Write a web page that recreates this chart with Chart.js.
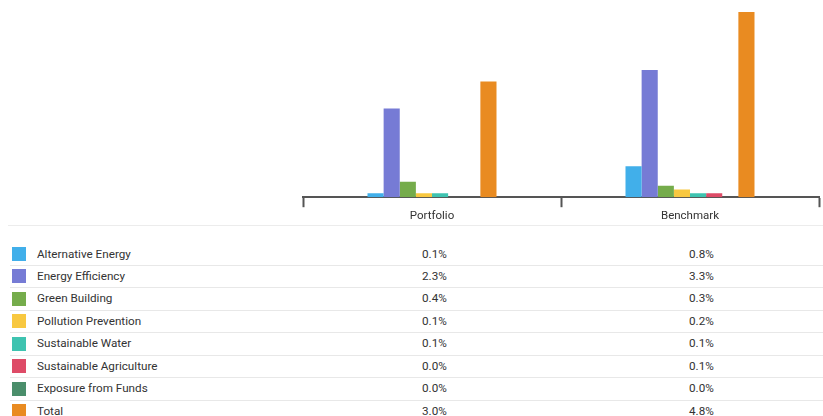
<!DOCTYPE html>
<html>
<head>
<meta charset="utf-8">
<script src="https://cdn.jsdelivr.net/npm/chart.js@4/dist/chart.umd.min.js"></script>
<style>
  body { margin: 0; background: #fff; font-family: Roboto, "Noto Sans", sans-serif; color: #333; }
  #wrap { position: relative; width: 823px; height: 416px; overflow: hidden; }
  #chartBox { position: absolute; left: 0; top: 0; width: 823px; height: 225px; }
  #divider { position: absolute; left: 8px; right: 0; top: 225px; height: 1px; background: #ececec; }
  #table { position: absolute; left: 10px; right: 0; top: 243.5px; }
  .row { position: relative; height: 21.45px; border-bottom: 1px solid #e8e8e8; font-size: 11.7px; line-height: 21.45px; }
  .swatch { position: absolute; left: 2px; top: 3.5px; width: 14px; height: 14px; }
  .name { position: absolute; left: 27px; }
  .val { position: absolute; }
</style>
</head>
<body>
<div id="wrap">
  <div id="chartBox"><canvas id="chart"></canvas></div>
  <div id="divider"></div>
  <div id="table"></div>
</div>
<script>
// categories and the series shown for each
const categories = ["Portfolio", "Benchmark"];
const seriesNames = [
  "Alternative Energy",
  "Energy Efficiency",
  "Green Building",
  "Pollution Prevention",
  "Sustainable Water",
  "Sustainable Agriculture",
  "Exposure from Funds",
  "Total",
];
const seriesColors = [
  "#41afea",
  "#767bd5",
  "#75ac4b",
  "#f8c840",
  "#3ec3b0",
  "#de4b67",
  "#4a8e6b",
  "#e98b21",
];
// percentage values: [Portfolio, Benchmark]
const alternativeEnergy = [0.1, 0.8];
const energyEfficiency = [2.3, 3.3];
const greenBuilding = [0.4, 0.3];
const pollutionPrevention = [0.1, 0.2];
const sustainableWater = [0.1, 0.1];
const sustainableAgriculture = [0.0, 0.1];
const exposureFromFunds = [0.0, 0.0];
const total = [3.0, 4.8];

const seriesValues = [
  alternativeEnergy,
  energyEfficiency,
  greenBuilding,
  pollutionPrevention,
  sustainableWater,
  sustainableAgriculture,
  exposureFromFunds,
  total,
];

const valueColumnX = [412, 679];

const datasets = seriesNames.map((name, i) => ({
  label: name,
  data: seriesValues[i],
  backgroundColor: seriesColors[i],
  borderWidth: 0,
  categoryPercentage: 0.5,
  barPercentage: 1.0,
}));

new Chart(document.getElementById("chart"), {
  type: "bar",
  data: { labels: categories, datasets },
  options: {
    responsive: true,
    maintainAspectRatio: false,
    animation: false,
    layout: { padding: { left: 303, right: 4, top: 12, bottom: 0 } },
    plugins: { legend: { display: false }, tooltip: { enabled: false } },
    scales: {
      y: {
        display: false,
        min: 0,
        max: Math.max(...total),
      },
      x: {
        border: { display: true, color: "#555", width: 2 },
        grid: {
          offset: true,
          drawOnChartArea: false,
          drawTicks: true,
          tickLength: 10,
          tickWidth: 2,
          color: "#555",
        },
        ticks: {
          color: "#333",
          padding: 2,
          font: { family: "Roboto", size: 11.5 },
        },
      },
    },
  },
});

// legend table with the values per category
const table = document.getElementById("table");
seriesNames.forEach((name, i) => {
  const row = document.createElement("div");
  row.className = "row";
  const sw = document.createElement("div");
  sw.className = "swatch";
  sw.style.background = seriesColors[i];
  row.appendChild(sw);
  const label = document.createElement("span");
  label.className = "name";
  label.textContent = name;
  row.appendChild(label);
  seriesValues[i].forEach((v, c) => {
    const cell = document.createElement("span");
    cell.className = "val";
    cell.style.left = valueColumnX[c] + "px";
    cell.textContent = v.toFixed(1) + "%";
    row.appendChild(cell);
  });
  table.appendChild(row);
});
</script>
</body>
</html>
